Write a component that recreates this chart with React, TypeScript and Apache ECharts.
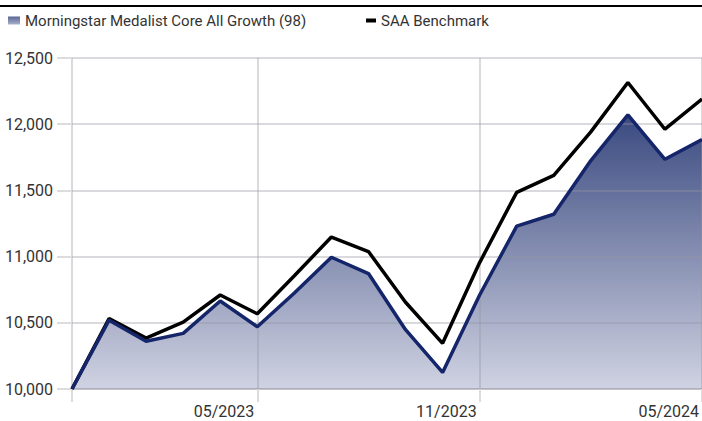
import React, { useEffect, useRef } from "react";
import * as echarts from "echarts";

const categories = [
  "12/2022", "01/2023", "02/2023", "03/2023", "04/2023", "05/2023",
  "06/2023", "07/2023", "08/2023", "09/2023", "10/2023", "11/2023",
  "12/2023", "01/2024", "02/2024", "03/2024", "04/2024", "05/2024",
];
const fundName = "Morningstar Medalist Core All Growth (98)";
const benchName = "SAA Benchmark";
const fundValues = [10000, 10520, 10360, 10420, 10665, 10470, 10725, 10995, 10872, 10448, 10125, 10710, 11230, 11320, 11725, 12070, 11735, 11885];
const benchValues = [10000, 10532, 10385, 10505, 10710, 10568, 10855, 11148, 11038, 10655, 10345, 10955, 11485, 11614, 11942, 12315, 11962, 12190];
const labelIndices = [5, 11, 17];
const gridIndices = [0, 5, 11, 17];

const FONT = "Roboto, 'Liberation Sans Narrow', sans-serif";

export default function App() {
  const ref = useRef<HTMLDivElement>(null);
  useEffect(() => {
    document.body.style.margin = "0";
    if (!ref.current) return;
    const chart = echarts.init(ref.current, undefined, { renderer: "svg" });
    chart.setOption({
      animation: false,
      backgroundColor: "#ffffff",
      textStyle: { fontFamily: FONT },
      graphic: [
        {
          type: "line",
          shape: { x1: 0, y1: 6, x2: 702, y2: 6 },
          style: { stroke: "#000", lineWidth: 2 },
        },
      ],
      legend: [
        {
          left: 3,
          top: 8,
          itemWidth: 12,
          itemHeight: 8,
          selectedMode: false,
          data: [{ name: fundName, icon: "rect", itemStyle: { color: new echarts.graphic.LinearGradient(0, 0, 0, 1, [{ offset: 0, color: "#5a6794" }, { offset: 1, color: "#a9b0cb" }]), borderWidth: 0 } }],
          textStyle: { fontFamily: FONT, fontSize: 15, color: "#333" },
        },
        {
          left: 361,
          top: 8,
          itemWidth: 10,
          itemHeight: 4,
          selectedMode: false,
          data: [{ name: benchName, icon: "rect", itemStyle: { color: "#000" } }],
          textStyle: { fontFamily: FONT, fontSize: 15, color: "#333" },
        },
      ],
      grid: { left: 72, right: 0, top: 58, bottom: 32, containLabel: false },
      xAxis: {
        type: "category",
        data: categories,
        boundaryGap: false,
        z: 3,
        axisLine: { show: true, lineStyle: { color: "rgba(150,150,160,0.35)", width: 2 } },
        axisTick: {
          show: true,
          length: 13,
          interval: (i: number) => gridIndices.includes(i),
          lineStyle: { color: "#dcdcdc", width: 2 },
        },
        splitLine: {
          show: true,
          interval: (i: number) => gridIndices.includes(i),
          lineStyle: { color: "rgba(150,150,160,0.35)", width: 2 },
        },
        axisLabel: {
          interval: (i: number) => labelIndices.includes(i),
          align: "right",
          margin: 14,
          padding: [0, 3, 0, 0],
          fontFamily: FONT,
          fontSize: 16,
          color: "#333",
          showMaxLabel: true,
        },
      },
      yAxis: {
        type: "value",
        min: 10000,
        max: 12500,
        interval: 500,
        z: 3,
        axisLine: { show: false },
        axisTick: { show: true, length: 15, lineStyle: { color: "#dcdcdc", width: 2 } },
        splitLine: { show: true, lineStyle: { color: "rgba(150,150,160,0.35)", width: 2 } },
        axisLabel: {
          margin: 19,
          fontFamily: FONT,
          fontSize: 16,
          color: "#333",
          formatter: (v: number) => v.toLocaleString("en-US"),
        },
      },
      series: [
        {
          name: fundName + " area",
          type: "line",
          data: fundValues,
          symbol: "none",
          z: 1,
          lineStyle: { width: 0 },
          areaStyle: {
            color: new echarts.graphic.LinearGradient(0, 0, 0, 1, [
              { offset: 0, color: "#3a4a80" },
              { offset: 1, color: "#d0d3e2" },
            ]),
            opacity: 1,
          },
          silent: true,
          tooltip: { show: false },
        },
        {
          name: benchName,
          type: "line",
          data: benchValues,
          symbol: "none",
          z: 4,
          itemStyle: { color: "#000" },
          lineStyle: { color: "#000", width: 3.5 },
        },
        {
          name: fundName,
          type: "line",
          data: fundValues,
          symbol: "none",
          z: 5,
          itemStyle: { color: "#15256a" },
          lineStyle: { color: "#15256a", width: 3.5 },
        },
      ],
    });
    return () => chart.dispose();
  }, []);
  return <div ref={ref} style={{ width: 702, height: 421 }} />;
}
